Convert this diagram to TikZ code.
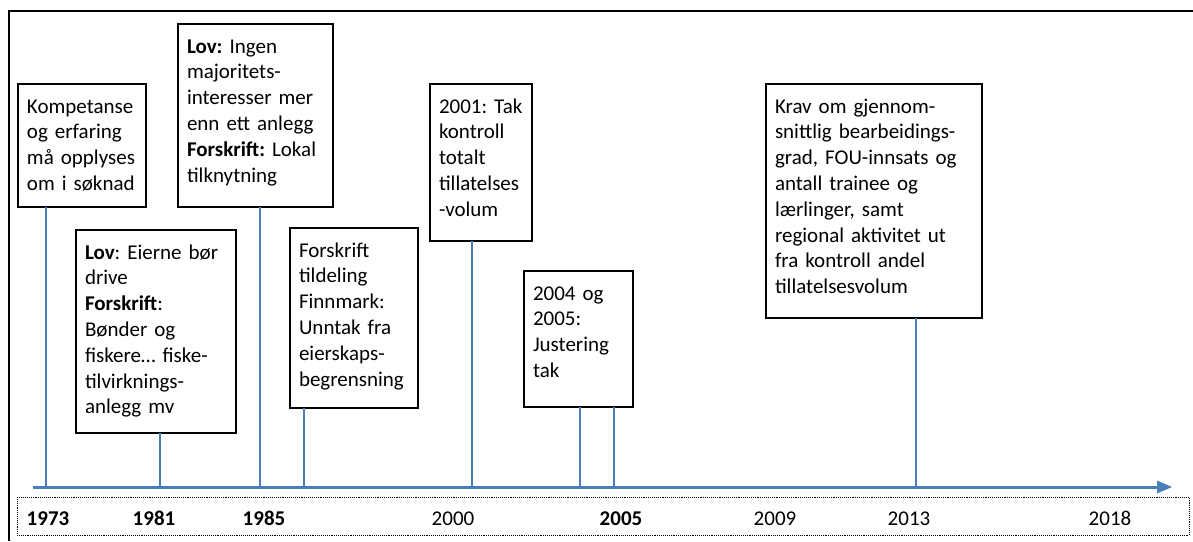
\documentclass[tikz,border=0pt]{standalone}
\usepackage{fontspec}
\setmainfont{Carlito}

\tikzset{every picture/.style={line width=0.75pt}}
\tikzset{
  evbox/.style={draw={rgb, 255:red, 0; green, 0; blue, 0}, line width=1.3pt, anchor=north west, outer sep=0pt,
    inner xsep=9pt, inner ysep=0pt, text height=29pt, align=left, font=\fontsize{21}{25.8}\selectfont\frenchspacing},
  tickline/.style={draw={rgb, 255:red, 74; green, 126; blue, 187}, line width=1.7pt},
  axisline/.style={draw={rgb, 255:red, 74; green, 126; blue, 187}, line width=3pt},
  yearlbl/.style={anchor=base, inner sep=0.75pt, font=\fontsize{21}{25.8}\selectfont}
}

\begin{document}
\begin{tikzpicture}[x=1pt,y=1pt,yscale=-1]
	\useasboundingbox (0,0) rectangle (1193,541);
	% Frame
	\draw [line width=2pt] (9,541) -- (9,11) -- (1193,11) ;
	
	% Event boxes
	\node [evbox, text width=110pt, text depth=94pt] (kompetanse) at (18,84) {Kompetanse\\og erfaring\\må opplyses\\om i søknad};
	\node [evbox, text width=142pt, text depth=174pt] (eierne) at (76,230) {\textbf{Lov}: Eierne bør\\drive\\\textbf{Forskrift}:\\Bønder og\\fiskere… fiske-\\tilvirknings-\\anlegg mv};
	\node [evbox, text width=137pt, text depth=154pt] (majoritet) at (178,24) {\textbf{Lov:} Ingen\\majoritets-\\interesser mer\\enn ett anlegg\\\textbf{Forskrift:} Lokal\\tilknytning};
	\node [evbox, text width=110pt, text depth=151pt] (finnmark) at (290,228) {Forskrift\\tildeling\\Finnmark:\\Unntak fra\\eierskaps-\\begrensning};
	\node [evbox, text width=84pt, text depth=128pt] (tak) at (430,84) {\mbox{2001: Tak}\\kontroll\\totalt\\tillatelses\\-volum};
	\node [evbox, text width=91pt, text depth=107pt] (justering) at (524,271) {2004 og\\2005:\\Justering\\tak};
	\node [evbox, text width=198pt, text depth=205pt] (krav) at (766,84) {Krav om gjennom-\\snittlig bearbeidings-\\grad, FOU-innsats og\\antall trainee og\\lærlinger, samt\\regional aktivitet ut\\fra kontroll andel\\tillatelsesvolum};
	
	% Axis and tick points
	\coordinate (axisstart) at (33,487);
	\coordinate (axisend) at (1172,487);
	\coordinate (t1973) at (46,487);
	\coordinate (t1981) at (160,487);
	\coordinate (t1985) at (260,487);
	\coordinate (t1987) at (304,487);
	\coordinate (t2001) at (472,487);
	\coordinate (t2004) at (580,487);
	\coordinate (t2005) at (614,487);
	\coordinate (t2013) at (916,487);
	
	% Draw ticks
	\draw [tickline] (kompetanse.south -| t1973) -- (t1973) ;
	\draw [tickline] (eierne.south -| t1981) -- (t1981) ;
	\draw [tickline] (majoritet.south -| t1985) -- (t1985) ;
	\draw [tickline] (finnmark.south -| t1987) -- (t1987) ;
	\draw [tickline] (tak.south -| t2001) -- (t2001) ;
	\draw [tickline] (justering.south -| t2004) -- (t2004) ;
	\draw [tickline] (justering.south -| t2005) -- (t2005) ;
	\draw [tickline] (krav.south -| t2013) -- (t2013) ;
	
	% Draw axis
	\draw [axisline] (axisstart) -- ([xshift=-12pt]axisend) ;
	\draw [shift={(axisend)}, rotate = 180] [fill={rgb, 255:red, 74; green, 126; blue, 187 }  ][line width=0.08]  [draw opacity=0] (15,-6.5) -- (0,0) -- (15,6.5) -- cycle    ;
	
	% Year bar
	\draw [densely dotted, line width=0.9pt] (17,497) rectangle (1189,535) ;
	\node [yearlbl] (lbl1973) at (48,525) {\textbf{1973}};
	\node [yearlbl] (lbl1981) at (154,525) {\textbf{1981}};
	\node [yearlbl] (lbl1985) at (264,525) {\textbf{1985}};
	\node [yearlbl] (lbl2000) at (453,525) {2000};
	\node [yearlbl] (lbl2005) at (621,525) {\textbf{2005}};
	\node [yearlbl] (lbl2009) at (775,525) {2009};
	\node [yearlbl] (lbl2013) at (909,525) {2013};
	\node [yearlbl] (lbl2018) at (1110,525) {2018};
\end{tikzpicture}
\end{document}
